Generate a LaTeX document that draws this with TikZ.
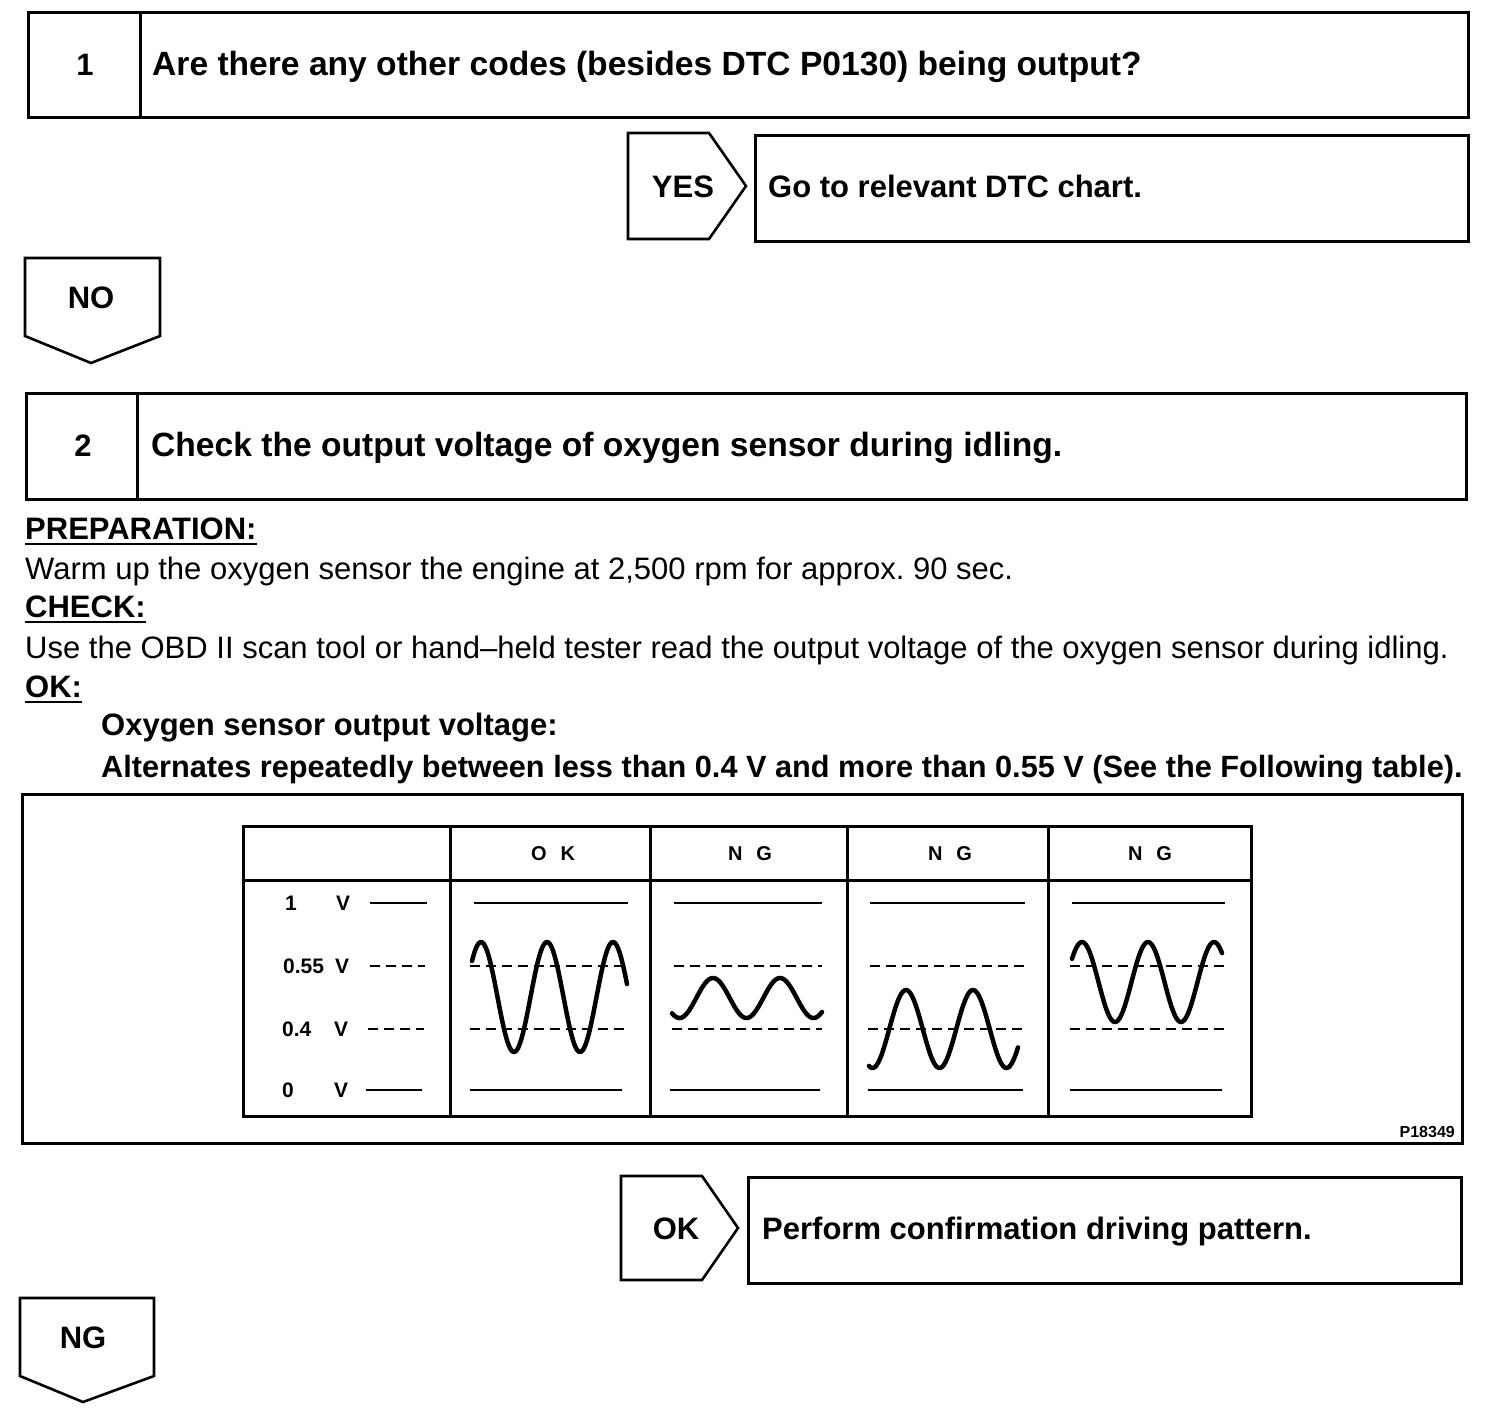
\documentclass[tikz,border=0pt]{standalone}
\usepackage{fontspec}
\setmainfont{Liberation Sans}
\begin{document}
\begin{tikzpicture}[x=1pt,y=-1pt,
  frame/.style={draw, line width=3pt, inner sep=0pt, anchor=north west},
  pent/.style={draw, line width=2.6pt, line join=miter},
  ttl/.style={font=\fontsize{31}{36}\selectfont\bfseries, inner sep=0pt, anchor=base west},
  sttl/.style={font=\fontsize{33.6}{38}\selectfont\bfseries, inner sep=0pt, anchor=base west},
  body/.style={font=\fontsize{31}{36}\selectfont, inner sep=0pt, anchor=base west},
  cnum/.style={font=\fontsize{31}{36}\selectfont\bfseries, inner sep=0pt, anchor=base},
  uline/.style={line width=2.6pt},
  tline/.style={line width=3pt},
  hdr/.style={font=\fontsize{20}{24}\selectfont\bfseries, inner sep=0pt, anchor=base},
  vlab/.style={font=\fontsize{21}{24}\selectfont\bfseries, inner sep=0pt, anchor=base west},
  lvl/.style={line width=2.2pt},
  dlvl/.style={line width=2.2pt, dash pattern=on 10pt off 6pt},
  wave/.style={line width=4.5pt, line cap=round, line join=round}
]
\useasboundingbox (0,0) rectangle (1504,1422);

% ---- Step 1 ----
\node[frame, minimum width=1440pt, minimum height=105pt] (box1) at (27,11) {};
\draw[tline] (140,11) -- (140,116);
\node[cnum] (n1) at (85,75) {1};
\node[sttl] (t1) at (152,75) {Are there any other codes (besides DTC P0130) being output?};

\draw[pent] (628,133) -- (709,133) -- (746,186) -- (709,239) -- (628,239) -- cycle;
\node[cnum] (yes) at (683,197) {YES};
\node[frame, minimum width=713pt, minimum height=106pt] (box1y) at (754,134) {};
\node[ttl] (t1y) at (768,197) {Go to relevant DTC chart.};

\draw[pent] (25,258) -- (160,258) -- (160,336) -- (91,363) -- (25,336) -- cycle;
\node[cnum] (no) at (91,308) {NO};

% ---- Step 2 ----
\node[frame, minimum width=1440pt, minimum height=106pt] (box2) at (25,392) {};
\draw[tline] (137,392) -- (137,498);
\node[cnum] (n2) at (83,456) {2};
\node[sttl] (t2) at (151,456) {Check the output voltage of oxygen sensor during idling.};

\node[ttl] (prep) at (25,539) {PREPARATION:};
\draw[uline] ([yshift=-5pt]prep.base west) -- ([yshift=-5pt]prep.base east);
\node[body] (warm) at (25,579) {Warm up the oxygen sensor the engine at 2,500 rpm for approx.\ 90 sec.};
\node[ttl] (chk) at (25,617) {CHECK:};
\draw[uline] ([yshift=-5pt]chk.base west) -- ([yshift=-5pt]chk.base east);
\node[body] (use) at (25,658) {Use the OBD II scan tool or hand--held tester read the output voltage of the oxygen sensor during idling.};
\node[ttl] (okl) at (25,697) {OK:};
\draw[uline] ([yshift=-5pt]okl.base west) -- ([yshift=-5pt]okl.base east);
\node[ttl] (oxy) at (101,735) {Oxygen sensor output voltage:};
\node[ttl, font=\fontsize{30.7}{36}\selectfont\bfseries] (alt) at (101,777) {Alternates repeatedly between less than 0.4 V and more than 0.55 V (See the Following table).};

% ---- chart ----
\node[frame, minimum width=1440pt, minimum height=349pt] (chart) at (21,793) {};
\node[frame, minimum width=1008pt, minimum height=290pt] (tab) at (242,825) {};
\draw[tline] (242,880) -- (1250,880);
\foreach \cx in {450,650,847,1048} \draw[tline] (\cx,825) -- (\cx,1115);

\node[hdr] (hok) at (553,860) {O\hspace{14pt}K};
\node[hdr] (hng1) at (750,860) {N\hspace{14pt}G};
\node[hdr] (hng2) at (950,860) {N\hspace{14pt}G};
\node[hdr] (hng3) at (1150,860) {N\hspace{14pt}G};

\node[vlab] (v1) at (285,910) {\makebox[65pt]{1\hfill V}};
\node[vlab] (v055) at (283,973) {\makebox[66pt]{0.55\hfill V}};
\node[vlab] (v04) at (282,1036) {\makebox[66pt]{0.4\hfill V}};
\node[vlab] (v0) at (282,1097) {\makebox[66pt]{0\hfill V}};
\draw[lvl] (370,903) -- (427,903);
\draw[dlvl] (370,966) -- (425,966);
\draw[dlvl] (368,1029) -- (424,1029);
\draw[lvl] (366,1090) -- (422,1090);

% OK column
\draw[lvl] (474,903) -- (628,903);
\draw[dlvl] (470,966) -- (628,966);
\draw[dlvl] (470,1029) -- (628,1029);
\draw[lvl] (470,1090) -- (622,1090);
\draw[wave] plot[domain=472:627, samples=120] (\x, {997-55*cos((\x-481)*5.45455)});

% NG column 1
\draw[lvl] (674,903) -- (822,903);
\draw[dlvl] (674,966) -- (822,966);
\draw[dlvl] (672,1029) -- (822,1029);
\draw[lvl] (670,1090) -- (820,1090);
\draw[wave] plot[domain=672:822, samples=120] (\x, {998-20*cos((\x-713)*5.37313)});

% NG column 2
\draw[lvl] (870,903) -- (1025,903);
\draw[dlvl] (870,966) -- (1025,966);
\draw[dlvl] (868,1029) -- (1025,1029);
\draw[lvl] (868,1090) -- (1023,1090);
\draw[wave] plot[domain=869:1018, samples=120] (\x, {1029-39*cos((\x-906)*5.37313)});

% NG column 3
\draw[lvl] (1072,903) -- (1225,903);
\draw[dlvl] (1070,966) -- (1225,966);
\draw[dlvl] (1070,1029) -- (1225,1029);
\draw[lvl] (1070,1090) -- (1222,1090);
\draw[wave] plot[domain=1072:1222, samples=120] (\x, {982-40*cos((\x-1082)*5.45455)});

\node[font=\fontsize{16}{18}\selectfont\bfseries, inner sep=0pt, anchor=base east] (pid) at (1455,1137) {P18349};

% ---- OK / NG ----
\draw[pent] (621,1176) -- (702,1176) -- (738,1228) -- (702,1280) -- (621,1280) -- cycle;
\node[cnum] (ok) at (676,1239) {OK};
\node[frame, minimum width=713pt, minimum height=106pt] (box2ok) at (747,1176) {};
\node[ttl] (t2ok) at (762,1239) {Perform confirmation driving pattern.};

\draw[pent] (20,1298) -- (154,1298) -- (154,1376) -- (83,1402) -- (20,1376) -- cycle;
\node[cnum] (ng) at (83,1348) {NG};
\end{tikzpicture}
\end{document}
